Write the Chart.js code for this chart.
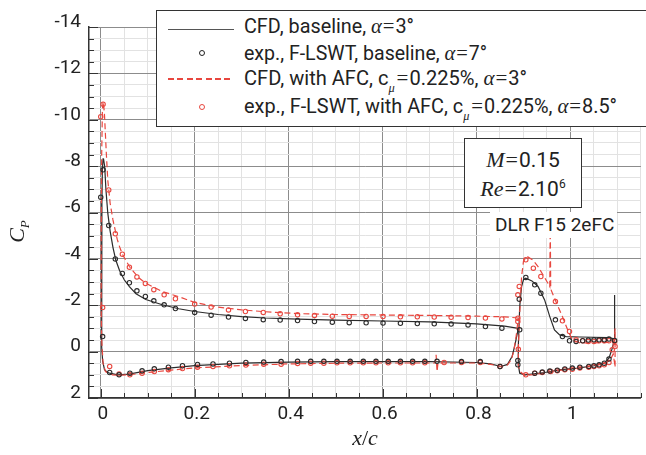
<!DOCTYPE html>
<html lang="en">
<head>
  <meta charset="UTF-8" />
  <title>DLR F15 2eFC - Cp distribution</title>
  <script src="https://cdn.jsdelivr.net/npm/chart.js"></script>
  <style>
    html, body { margin: 0; padding: 0; background: #fff; overflow: hidden; }
    #wrap { position: relative; width: 646px; height: 455px; overflow: hidden;
            font-family: Roboto, "Liberation Sans", sans-serif; color: #222; }
    #wrap canvas { position: absolute; left: 0; top: 0; }
    .box { position: absolute; background: #fff; border: 1.5px solid #333; box-sizing: border-box; }
    .row { position: absolute; left: 87px; font-size: 21px; line-height: 21px; white-space: nowrap; transform-origin: 0 0; }
    .it { font-family: "Liberation Serif", "DejaVu Serif", serif; font-style: italic; font-size: 22px; }
    .eq { font-family: "Liberation Serif", serif; font-size: 22px; margin: 0 1px; }
    .sub { font-family: "Liberation Serif", serif; font-style: italic; font-size: 13px; position: relative; top: 7px; margin: 0 1px 0 0; }
    .smp { position: absolute; }
  </style>
</head>
<body>
<div id="wrap">
  <canvas id="cp" width="646" height="455"></canvas>

  <div class="box" style="left:156px; top:10px; width:520px; height:117px;">
    <div class="smp" style="left:11px; top:18px; width:66px; height:0; border-top:1.4px solid #555;"></div>
    <div class="smp" style="left:42px; top:39px; width:4px; height:4px; border:1.2px solid #222; border-radius:50%;"></div>
    <div class="smp" style="left:11px; top:67px; width:66px; height:1.5px; background:repeating-linear-gradient(to right,#e8473f 0 6px,transparent 6px 9.4px);"></div>
    <div class="smp" style="left:42px; top:93px; width:4px; height:4px; border:1.2px solid #e8473f; border-radius:50%;"></div>
    <div class="row" data-w="170" style="top:4px;">CFD, baseline, <span class="it">α</span><span class="eq">=</span>3°</div>
    <div class="row" data-w="243" style="top:31px;">exp., F-LSWT, baseline, <span class="it">α</span><span class="eq">=</span>7°</div>
    <div class="row" data-w="283" style="top:56px;">CFD, with AFC, c<span class="sub">μ</span><span class="eq">=</span>0.225%, <span class="it">α</span><span class="eq">=</span>3°</div>
    <div class="row" data-w="373" style="top:84px;">exp., F-LSWT, with AFC, c<span class="sub">μ</span><span class="eq">=</span>0.225%, <span class="it">α</span><span class="eq">=</span>8.5°</div>
  </div>

  <div class="box" style="left:464px; top:138px; width:118px; height:70px; text-align:center; font-size:21px; line-height:24px; padding-top:9px;">
    <div><span class="it">M</span><span class="eq">=</span>0.15</div>
    <div><span class="it">Re</span><span class="eq">=</span>2.10<sup style="font-size:12px;">6</sup></div>
  </div>

  <div style="position:absolute; left:490px; top:212px; width:127px; height:26px; background:#fff; font-size:19px; line-height:26px; padding-left:5px; box-sizing:border-box;">DLR F15 2eFC</div>

  <div style="position:absolute; left:-13px; top:218px; width:60px; height:26px; transform:rotate(-90deg); text-align:center; line-height:26px;">
    <span class="it">C</span><span class="sub" style="top:5px;font-size:13px;">P</span>
  </div>
  <div style="position:absolute; left:335px; top:426px; width:60px; text-align:center; line-height:24px;"><span class="it">x</span><span class="it" style="font-style:normal;">/</span><span class="it">c</span></div>
</div>

<script>
  // CFD baseline, main element (upper TE -> LE -> lower TE)
  const cfdBaseMainX = [0.889, 0.86, 0.8, 0.7, 0.6, 0.5, 0.42, 0.35, 0.3, 0.25, 0.2, 0.166, 0.131, 0.096, 0.075, 0.061, 0.05, 0.04, 0.032, 0.026, 0.02, 0.015, 0.011, 0.0084, 0.006, 0.005, 0.0035, 0.0025, 0.002, 0.002, 0.004, 0.008, 0.013, 0.019, 0.036, 0.06, 0.1, 0.15, 0.2, 0.3, 0.4, 0.5, 0.6, 0.7, 0.8, 0.83, 0.852, 0.866, 0.876, 0.882, 0.886, 0.889];
  const cfdBaseMainY = [-1.0, -1.1, -1.2, -1.28, -1.32, -1.36, -1.4, -1.45, -1.51, -1.6, -1.73, -1.85, -2.02, -2.25, -2.5, -2.8, -3.1, -3.5, -3.95, -4.5, -5.2, -5.97, -7.0, -7.98, -8.3, -8.34, -7.9, -6.5, -4.0, -0.2, 0.4, 0.78, 0.88, 0.93, 1.0, 0.97, 0.82, 0.7, 0.6, 0.5, 0.45, 0.43, 0.43, 0.43, 0.47, 0.53, 0.64, 0.55, 0.2, -0.3, -0.7, -1.0];
  // CFD baseline, flap
  const cfdBaseFlapX = [1.094, 1.094, 1.08, 1.05, 1.02, 0.991, 0.977, 0.966, 0.956, 0.945, 0.931, 0.918, 0.905, 0.9, 0.896, 0.892, 0.889, 0.889, 0.892, 0.903, 0.945, 0.98, 1.015, 1.05, 1.072, 1.082, 1.088, 1.094];
  const cfdBaseFlapY = [-2.44, -0.55, -0.6, -0.62, -0.63, -0.65, -0.72, -0.94, -1.51, -2.23, -2.81, -3.05, -3.17, -3.1, -2.81, -1.94, -0.22, 0.57, 0.93, 1.0, 0.9, 0.78, 0.71, 0.61, 0.5, 0.28, -0.08, -0.55];

  // CFD with AFC, main element
  const cfdAfcMainX = [0.889, 0.86, 0.8, 0.7, 0.6, 0.5, 0.42, 0.35, 0.3, 0.25, 0.2, 0.166, 0.131, 0.096, 0.08, 0.061, 0.046, 0.04, 0.035, 0.026, 0.02, 0.015, 0.012, 0.008, 0.006, 0.005, 0.0035, 0.002, 0.001, 0.001, 0.002, 0.005, 0.01, 0.025, 0.04, 0.06, 0.1, 0.15, 0.2, 0.3, 0.4, 0.5, 0.6, 0.7, 0.712, 0.714, 0.716, 0.718, 0.8, 0.83, 0.852, 0.866, 0.874, 0.879, 0.884, 0.889];
  const cfdAfcMainY = [-1.45, -1.5, -1.53, -1.56, -1.58, -1.6, -1.64, -1.72, -1.8, -1.92, -2.12, -2.37, -2.59, -2.95, -3.2, -3.67, -4.2, -4.53, -4.85, -5.68, -6.4, -7.4, -8.5, -10.2, -10.7, -10.78, -10.4, -8.5, -5.0, -1.94, -0.5, 0.5, 0.86, 1.0, 1.02, 1.0, 0.9, 0.8, 0.7, 0.6, 0.53, 0.5, 0.49, 0.49, 0.49, 0.14, 0.86, 0.49, 0.49, 0.55, 0.64, 0.58, 0.35, 0.0, -0.6, -1.45];
  // CFD with AFC, flap
  const cfdAfcFlapX = [1.095, 1.095, 1.093, 1.08, 1.05, 1.021, 1.004, 0.994, 0.983, 0.969, 0.958, 0.957, 0.956, 0.952, 0.931, 0.92, 0.908, 0.9, 0.896, 0.892, 0.889, 0.889, 0.893, 0.903, 0.945, 0.98, 1.015, 1.05, 1.075, 1.085, 1.091, 1.095];
  const cfdAfcFlapY = [0.64, -1.0, -0.42, -0.4, -0.38, -0.37, -0.51, -0.94, -1.51, -2.16, -2.7, -5.6, -2.8, -2.95, -3.67, -3.95, -4.1, -3.9, -3.24, -1.66, -0.08, 0.6, 0.86, 1.03, 0.93, 0.8, 0.72, 0.62, 0.5, 0.35, 0.1, 0.64];

  // exp., F-LSWT, baseline (main upper, main lower, flap upper, flap lower)
  const expBaseX = [0, 0.005, 0.017, 0.031, 0.046, 0.061, 0.077, 0.095, 0.113, 0.135, 0.159, 0.2, 0.235, 0.272, 0.308, 0.346, 0.382, 0.419, 0.455, 0.493, 0.529, 0.565, 0.601, 0.638, 0.674, 0.71, 0.746, 0.782, 0.819, 0.854, 0.892,
    0.004, 0.019, 0.039, 0.062, 0.088, 0.114, 0.144, 0.174, 0.206, 0.239, 0.274, 0.309, 0.347, 0.384, 0.419, 0.447, 0.475, 0.503, 0.531, 0.559, 0.586, 0.612, 0.638, 0.664, 0.69, 0.716, 0.768, 0.808, 0.85,
    0.891, 0.905, 0.924, 0.937, 0.968, 0.983, 0.998, 1.012, 1.026, 1.038, 1.05, 1.061, 1.072, 1.082, 1.094,
    0.888, 0.888, 0.924, 0.94, 0.956, 0.972, 0.988, 1.004, 1.02, 1.039, 1.05, 1.061, 1.072, 1.082];
  const expBaseY = [-6.66, -7.84, -5.44, -4.0, -3.37, -2.97, -2.62, -2.38, -2.19, -2.02, -1.86, -1.69, -1.57, -1.49, -1.43, -1.38, -1.36, -1.34, -1.3, -1.27, -1.25, -1.24, -1.23, -1.22, -1.21, -1.2, -1.19, -1.15, -1.08, -1.01, -0.94,
    -0.65, 0.9, 1.0, 0.93, 0.83, 0.74, 0.67, 0.61, 0.55, 0.53, 0.5, 0.47, 0.45, 0.43, 0.42, 0.42, 0.42, 0.42, 0.42, 0.42, 0.42, 0.42, 0.42, 0.42, 0.42, 0.42, 0.43, 0.43, 0.64,
    -2.26, -3.2, -2.88, -2.52, -1.37, -0.65, -0.47, -0.44, -0.47, -0.5, -0.51, -0.51, -0.51, -0.54, -0.48,
    0.38, 0.57, 0.93, 0.88, 0.84, 0.8, 0.75, 0.71, 0.67, 0.64, 0.61, 0.57, 0.5, 0.32];

  // exp., F-LSWT, with AFC
  const expAfcX = [0, 0.005, 0.017, 0.031, 0.046, 0.061, 0.077, 0.095, 0.113, 0.135, 0.159, 0.2, 0.235, 0.272, 0.308, 0.346, 0.382, 0.419, 0.455, 0.493, 0.529, 0.565, 0.601, 0.638, 0.674, 0.71, 0.746, 0.782, 0.819, 0.854, 0.888, 0.888,
    0.004, 0.019, 0.039, 0.062, 0.088, 0.114, 0.144, 0.174, 0.206, 0.239, 0.274, 0.309, 0.347, 0.384, 0.419, 0.447, 0.475, 0.503, 0.531, 0.559, 0.586, 0.612, 0.638, 0.664, 0.69, 0.731, 0.768, 0.808, 0.85,
    0.888, 0.891, 0.905, 0.921, 0.937, 0.968, 0.983, 0.998, 1.012, 1.026, 1.038, 1.05, 1.061, 1.072, 1.082, 1.094, 1.095,
    0.889, 0.905, 0.924, 0.94, 0.958, 0.972, 0.988, 1.004, 1.02, 1.039, 1.05, 1.061, 1.072, 1.082, 1.089];
  const expAfcY = [-10.13, -10.67, -6.97, -5.08, -4.2, -3.64, -3.22, -2.94, -2.67, -2.45, -2.28, -2.05, -1.92, -1.8, -1.73, -1.69, -1.63, -1.59, -1.56, -1.53, -1.52, -1.52, -1.51, -1.5, -1.5, -1.49, -1.48, -1.47, -1.45, -1.41, -1.44, -1.3,
    -1.9, 0.64, 0.96, 1.0, 0.93, 0.86, 0.78, 0.73, 0.67, 0.64, 0.61, 0.58, 0.54, 0.54, 0.51, 0.5, 0.5, 0.48, 0.48, 0.48, 0.48, 0.48, 0.48, 0.48, 0.48, 0.47, 0.47, 0.47, 0.64,
    -2.45, -2.81, -3.96, -3.6, -3.24, -2.16, -1.33, -0.87, -0.51, -0.47, -0.44, -0.44, -0.47, -0.47, -0.47, -0.44, -0.22,
    -0.1, 1.0, 0.93, 0.9, 0.86, 0.83, 0.78, 0.76, 0.71, 0.67, 0.64, 0.61, 0.57, 0.47, -0.08];

  const BLACK = '#2b2b2b';
  const RED = '#e8473f';

  // squeeze the legend rows to the condensed width of the original lettering
  function fitRows() {
    document.querySelectorAll('.row[data-w]').forEach(r => {
      r.style.transform = 'none';
      const w = r.getBoundingClientRect().width;
      r.style.transform = 'scaleX(' + (Number(r.dataset.w) / w) + ')';
    });
  }
  fitRows();
  if (document.fonts) document.fonts.ready.then(fitRows);

  const pts = (xs, ys) => xs.map((x, i) => ({ x: x, y: ys[i] }));
  const isMajor = (v, step) => Math.abs(v / step - Math.round(v / step)) < 1e-6;

  const lineSet = (data, color, dash) => ({
    data: data, showLine: true, pointRadius: 0, borderColor: color,
    borderWidth: 1.2, borderDash: dash, fill: false
  });
  const markSet = (data, color) => ({
    data: data, showLine: false, pointRadius: 2.2, pointBorderWidth: 1.1,
    pointBorderColor: color, pointBackgroundColor: 'rgba(255,255,255,0)'
  });

  // short inward tick marks on the left and bottom axes
  const innerTicks = {
    id: 'innerTicks',
    beforeDatasetsDraw(chart) {
      const c = chart.ctx, a = chart.chartArea;
      const sx = chart.scales.x, sy = chart.scales.y;
      c.save();
      c.strokeStyle = '#333';
      c.lineWidth = 1;
      sy.ticks.forEach(t => {
        const p = Math.round(sy.getPixelForValue(t.value)) + 0.5;
        const len = isMajor(t.value, 2) ? 9 : 5;
        c.beginPath(); c.moveTo(a.left, p); c.lineTo(a.left + len, p); c.stroke();
      });
      sx.ticks.forEach(t => {
        const p = Math.round(sx.getPixelForValue(t.value)) + 0.5;
        const len = isMajor(t.value, 0.2) ? 9 : 5;
        c.beginPath(); c.moveTo(p, a.bottom); c.lineTo(p, a.bottom - len); c.stroke();
      });
      c.restore();
    }
  };

  new Chart(document.getElementById('cp'), {
    type: 'scatter',
    data: {
      datasets: [
        markSet(pts(expBaseX, expBaseY), BLACK),
        markSet(pts(expAfcX, expAfcY), RED),
        lineSet(pts(cfdAfcMainX, cfdAfcMainY), RED, [6, 3.5]),
        lineSet(pts(cfdAfcFlapX, cfdAfcFlapY), RED, [6, 3.5]),
        lineSet(pts(cfdBaseMainX, cfdBaseMainY), BLACK, []),
        lineSet(pts(cfdBaseFlapX, cfdBaseFlapY), BLACK, [])
      ]
    },
    options: {
      responsive: false,
      animation: false,
      layout: { padding: { top: 27, left: 0, right: 0, bottom: 0 } },
      plugins: { legend: { display: false }, tooltip: { enabled: false } },
      scales: {
        x: {
          type: 'linear', min: -0.025, max: 1.15,
          afterFit(s) { s.height = 57; },
          border: { display: true, color: '#333', width: 1.5 },
          grid: {
            drawTicks: false, lineWidth: 1,
            color: c => isMajor(c.tick.value, 0.2) ? '#8c8c8c' : '#e2e2e2'
          },
          ticks: {
            stepSize: 0.05, includeBounds: false, autoSkip: false, maxTicksLimit: 100,
            maxRotation: 0, padding: 5, labelOffset: 2, color: '#222',
            font: { family: 'Roboto', size: 19 },
            callback: v => isMajor(v, 0.2) ? String(Math.round(v * 10) / 10) : ''
          }
        },
        y: {
          type: 'linear', min: -14, max: 2, reverse: true,
          afterFit(s) { s.width = 89; },
          border: { display: true, color: '#333', width: 1.5 },
          grid: {
            drawTicks: false, lineWidth: 1,
            color: c => isMajor(c.tick.value, 2) ? '#8c8c8c' : '#e2e2e2'
          },
          ticks: {
            stepSize: 0.5, autoSkip: false, maxTicksLimit: 100,
            padding: 8, labelOffset: -5, color: '#222',
            font: { family: 'Roboto', size: 19 },
            callback: v => isMajor(v, 2) ? String(Math.round(v)) : ''
          }
        }
      }
    },
    plugins: [innerTicks]
  });
</script>
</body>
</html>
